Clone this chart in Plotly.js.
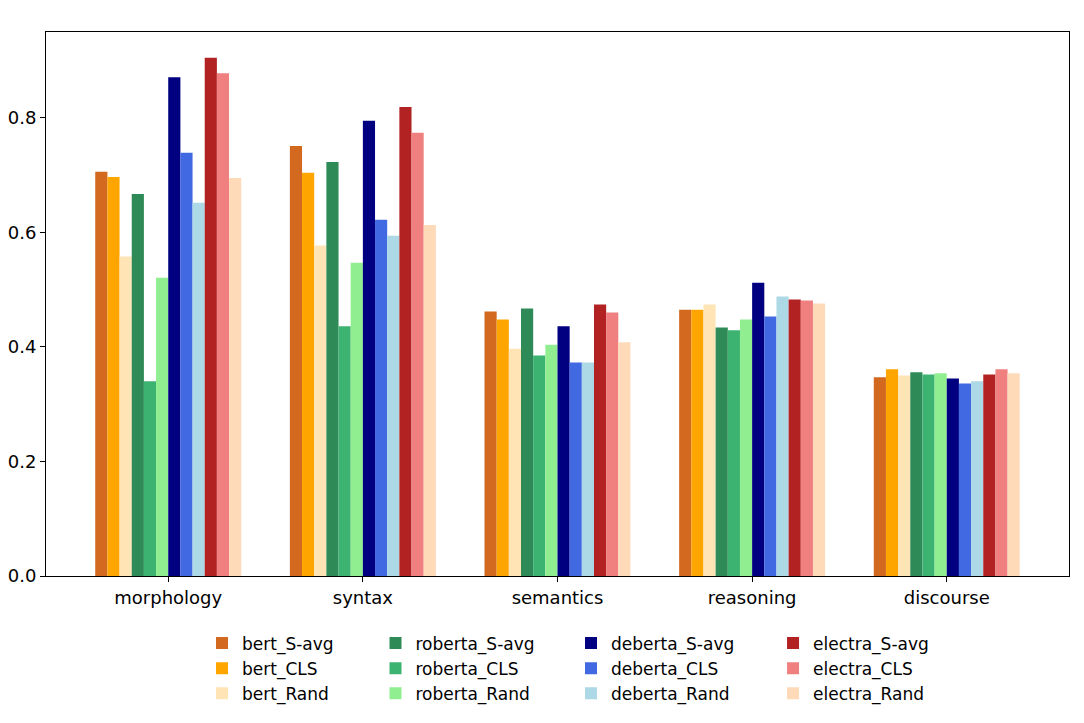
<!DOCTYPE html>
<html>
<head>
<meta charset="utf-8">
<script src="https://cdn.plot.ly/plotly-3.0.1.min.js"></script>
<style>html,body{margin:0;padding:0;background:#fff;}#chart{width:1084px;height:723px;}</style>
</head>
<body>
<div id="chart"></div>
<script>
const categories = ["morphology", "syntax", "semantics", "reasoning", "discourse"];
const seriesNames = ["bert_S-avg","bert_CLS","bert_Rand","roberta_S-avg","roberta_CLS","roberta_Rand","deberta_S-avg","deberta_CLS","deberta_Rand","electra_S-avg","electra_CLS","electra_Rand"];
const bert_S_avg    = [0.706, 0.751, 0.462, 0.465, 0.347];
const bert_CLS      = [0.697, 0.704, 0.448, 0.465, 0.361];
const bert_Rand     = [0.558, 0.577, 0.397, 0.474, 0.350];
const roberta_S_avg = [0.667, 0.723, 0.467, 0.434, 0.356];
const roberta_CLS   = [0.340, 0.436, 0.385, 0.429, 0.352];
const roberta_Rand  = [0.521, 0.547, 0.404, 0.448, 0.354];
const deberta_S_avg = [0.871, 0.795, 0.436, 0.512, 0.345];
const deberta_CLS   = [0.739, 0.622, 0.373, 0.453, 0.336];
const deberta_Rand  = [0.652, 0.594, 0.373, 0.488, 0.340];
const electra_S_avg = [0.905, 0.819, 0.474, 0.483, 0.352];
const electra_CLS   = [0.878, 0.774, 0.460, 0.481, 0.361];
const electra_Rand  = [0.695, 0.613, 0.408, 0.476, 0.354];
const yTickVals = [0, 0.2, 0.4, 0.6, 0.8];

const seriesValues = [bert_S_avg, bert_CLS, bert_Rand, roberta_S_avg, roberta_CLS, roberta_Rand,
  deberta_S_avg, deberta_CLS, deberta_Rand, electra_S_avg, electra_CLS, electra_Rand];
const colors = ["#D2691E","#FFA500","#FFE4B5","#2E8B57","#3CB371","#90EE90",
  "#000080","#4169E1","#ADD8E6","#B22222","#F08080","#FFDAB9"];
const legendIds = ["legend", "legend2", "legend3", "legend4"];

const traces = seriesNames.map((name, i) => ({
  type: "bar",
  name: name,
  x: categories.map((c, j) => j),
  y: seriesValues[i],
  marker: {color: colors[i], line: {width: 0}},
  legend: legendIds[Math.floor(i / 3)],
  hoverinfo: "name+y"
}));

const legendX = [0.1525, 0.3221, 0.5132, 0.7107];
function legendAt(x) {
  return {
    orientation: "v",
    x: x, xanchor: "left",
    y: -0.091, yanchor: "top",
    font: {size: 17},
    traceorder: "normal",
    bgcolor: "rgba(0,0,0,0)",
    itemclick: false
  };
}

const layout = {
  width: 1084, height: 723,
  margin: {l: 46, r: 15, t: 32, b: 147, autoexpand: false},
  paper_bgcolor: "#fff", plot_bgcolor: "#fff",
  font: {family: "DejaVu Sans, sans-serif", color: "#000", size: 16},
  barmode: "group", bargap: 0.25, bargroupgap: 0,
  showlegend: true,
  xaxis: {
    range: [-0.628, 4.628],
    tickvals: [0, 1, 2, 3, 4], ticktext: categories,
    showgrid: false, zeroline: false,
    showline: true, linecolor: "#000", linewidth: 1, mirror: true,
    ticks: "outside", ticklen: 5, tickcolor: "#000",
    tickfont: {size: 18}
  },
  yaxis: {
    range: [0, 0.95],
    tickvals: yTickVals, tickformat: ".1f",
    showgrid: false, zeroline: false,
    showline: true, linecolor: "#000", linewidth: 1, mirror: true,
    ticks: "outside", ticklen: 5, tickcolor: "#000",
    tickfont: {size: 18}
  },
  legend: legendAt(legendX[0]),
  legend2: legendAt(legendX[1]),
  legend3: legendAt(legendX[2]),
  legend4: legendAt(legendX[3])
};

Plotly.newPlot("chart", traces, layout, {displayModeBar: false, staticPlot: true});
</script>
</body>
</html>
